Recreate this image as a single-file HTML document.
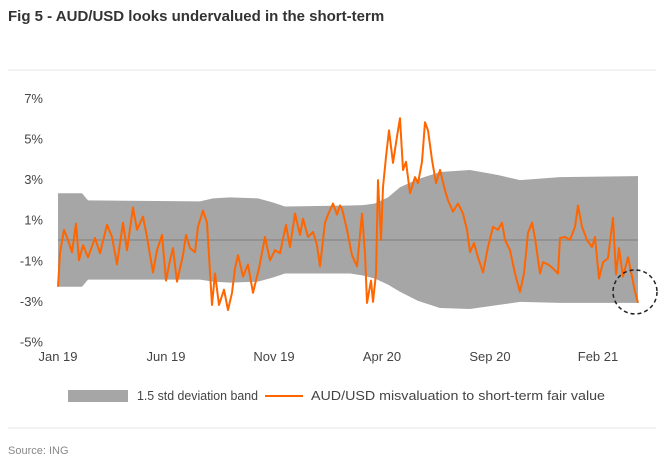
<!DOCTYPE html>
<html><head><meta charset="utf-8"><style>
body{margin:0;background:#fff;width:664px;height:463px;overflow:hidden;font-family:"Liberation Sans",sans-serif;}
</style></head><body>
<svg width="664" height="463" xmlns="http://www.w3.org/2000/svg" id="chart">
<text x="8" y="21" font-size="15" font-weight="bold" fill="#333">Fig 5 - AUD/USD looks undervalued in the short-term</text>
<line x1="8" y1="70" x2="656" y2="70" stroke="#e4e4e4"/>
<line x1="8" y1="428" x2="656" y2="428" stroke="#e4e4e4"/>
<g id="plot"></g>
<g>
<rect x="68" y="390" width="60" height="12" fill="#a6a6a6"/>
<text x="137" y="400" font-size="12.5" fill="#444" textLength="121" lengthAdjust="spacingAndGlyphs">1.5 std deviation band</text>
<line x1="265" y1="396" x2="303" y2="396" stroke="#ff6600" stroke-width="2"/>
<text x="311" y="400" font-size="12.5" fill="#444" textLength="294" lengthAdjust="spacingAndGlyphs">AUD/USD misvaluation to short-term fair value</text>
</g>
<text x="8" y="454" font-size="11" fill="#888">Source: ING</text>
</svg>
<script>
const weeks=[0,0.4,1.2,2,2.8,3.6,4.2,5,6,7.4,8.4,9.8,10.8,11.8,13,13.8,15,15.8,17,17.8,19,19.8,20.8,21.6,22.4,23,23.8,25,25.6,26.4,27.4,28,29,29.8,30.8,31.4,32.2,33.2,34,34.8,35.4,36,37,38,39,40.2,41.4,42.4,43.4,44.4,45.6,46.4,47.4,48.4,49,50,51,51.8,52.4,53.4,54,55,55.8,56.4,56.8,57.8,58.8,59.8,60.8,61.4,61.8,62.6,63,63.6,64,64.6,65,65.6,66.2,67,67.8,68.4,69,69.6,70.4,71.4,72,72.8,73.4,74,74.8,75.6,76.4,77.4,78,79,80,81,81.8,82.4,83.2,84,85,86,87,88,88.8,89.4,90.4,91.4,92.4,93.2,94,94.8,95.4,96.4,97,98,99,100,100.4,101.4,102.4,103.4,104,104.8,105.8,106.8,107.4,108.2,109,110,111,111.6,112.2,113,114,114.8,115.4,116];
const misval=[-2.3,-0.65,0.5,0,-0.6,0.8,-1.0,-0.25,-0.85,0.1,-0.65,0.75,0.15,-1.2,0.85,-0.5,1.6,0.5,1.15,0.15,-1.6,-0.5,0.25,-2.0,-1.0,-0.4,-2.05,-0.75,0.25,-0.4,-0.6,0.65,1.45,0.85,-3.2,-1.65,-3.2,-2.45,-3.45,-2.6,-1.4,-0.75,-1.8,-1.2,-2.6,-1.4,0.15,-1.0,-0.5,-0.65,0.75,-0.35,1.3,0.25,1.05,0.15,0.4,-0.25,-1.3,0.85,1.25,1.8,1.25,1.7,1.55,0.5,-0.75,-1.3,1.3,-0.65,-3.1,-2.0,-3.05,-1.65,2.95,0,2.6,4.1,5.4,3.8,5.1,6.0,3.45,3.85,2.3,3.1,2.8,3.85,5.8,5.4,3.95,2.8,3.45,2.45,1.95,1.4,1.8,1.3,0.5,-0.6,-0.15,-0.85,-1.6,-0.35,0.65,0.5,0.85,0,-0.5,-1.65,-2.55,-1.65,0.35,0.85,0.1,-1.65,-1.1,-1.2,-1.4,-1.65,0.1,0.15,0,0.65,1.7,0.65,0,-0.35,0.15,-1.9,-1.1,-0.9,1.1,-1.7,-0.4,-1.8,-0.85,-1.8,-2.55,-3.1];
const bandWeeks=[0,4.8,6,28.4,31,34.4,40,43,45.4,58.4,61,63.4,66,68.4,72,76.4,82.4,88,92.4,100.4,116];
const bandUpper=[2.3,2.3,1.95,1.9,2.05,2.1,2.05,1.85,1.65,1.7,1.72,1.8,2.1,2.6,3.0,3.35,3.45,3.2,2.95,3.1,3.15];
const bandLower=[-2.3,-2.3,-1.95,-1.95,-2.05,-2.1,-2.05,-1.85,-1.65,-1.65,-1.75,-1.9,-2.2,-2.55,-3.0,-3.35,-3.4,-3.2,-3.05,-3.1,-3.1];
const yTicks=[7,5,3,1,-1,-3,-5];
const xTickMonths=[0,5,10,15,20,25];
const xTickLabels=["Jan 19","Jun 19","Nov 19","Apr 20","Sep 20","Feb 21"];

const X=w=>58+w*5;
const XM=m=>58+m*21.6;
const Y=v=>240-v*20.3;
const NS="http://www.w3.org/2000/svg";
const g=document.getElementById('plot');
function mk(t,a){const e=document.createElementNS(NS,t);for(const k in a)e.setAttribute(k,a[k]);g.appendChild(e);return e;}

let d="";
bandWeeks.forEach((w,i)=>{d+=(i?"L":"M")+X(w)+","+Y(bandUpper[i]);});
for(let i=bandWeeks.length-1;i>=0;i--)d+="L"+X(bandWeeks[i])+","+Y(bandLower[i]);
const band=mk('path',{d:d+"Z",fill:"#a6a6a6"});



const zl=mk('line',{x1:X(0),x2:X(116),y1:Y(0),y2:Y(0),stroke:"#8c8c8c","stroke-width":1.5});



yTicks.forEach(v=>{
 const t=mk('text',{x:43,y:Y(v)+5,"font-size":13,fill:"#444","text-anchor":"end"});
 t.textContent=v+"%";
 
 
});
xTickMonths.forEach((m,i)=>{
 const t=mk('text',{x:XM(m),y:361,"font-size":13,fill:"#444","text-anchor":"middle"});
 t.textContent=xTickLabels[i];
 
 
});

let ld="";
weeks.forEach((w,i)=>{ld+=(i?"L":"M")+X(w).toFixed(1)+","+Y(misval[i]).toFixed(1);});
const line=mk('path',{d:ld,fill:"none",stroke:"#ff6600","stroke-width":2,"stroke-linejoin":"round"});



const last=weeks.length-1;
const c=mk('circle',{cx:X(weeks[last])-3,cy:Y(misval[last])-11,r:22,fill:"none",stroke:"#222","stroke-width":1.5,"stroke-dasharray":"4 3"});


</script>
</body></html>
